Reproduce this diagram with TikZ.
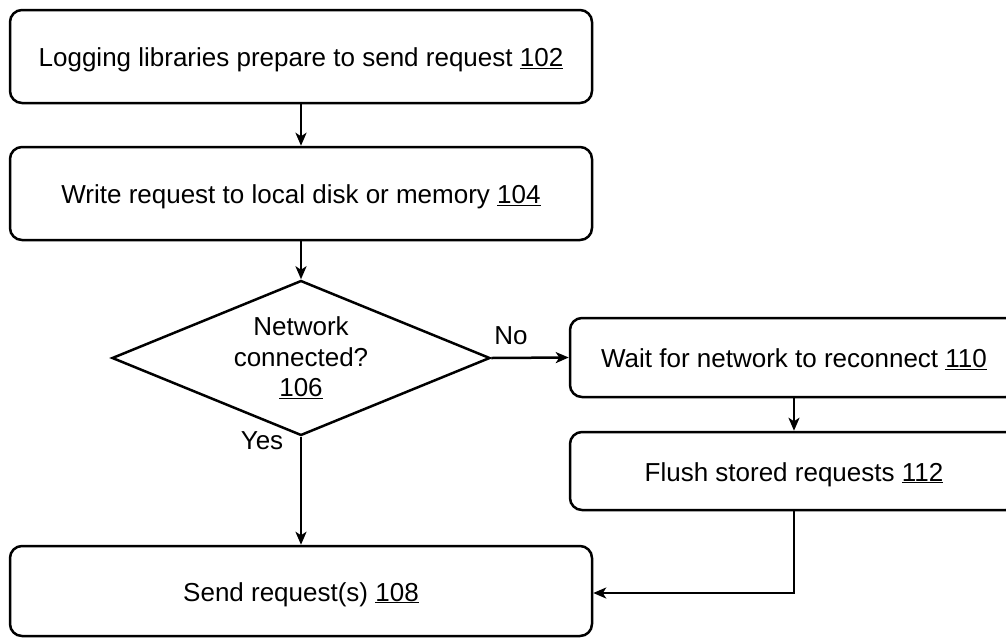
\documentclass[tikz,border=0pt]{standalone}
\usepackage{fontspec}
\setmainfont{Liberation Sans}
\usetikzlibrary{shapes.geometric,arrows.meta}

\tikzset{
  stepbox/.style={draw, line width=2.5pt, rounded corners=12pt, align=center,
    inner sep=0pt, text height=20pt, text depth=0pt,
    font=\fontsize{26}{31}\selectfont},
  decision/.style={draw, line width=2.5pt, diamond, aspect=2.45, inner sep=0pt,
    align=center, minimum width=378pt, minimum height=155pt,
    font=\fontsize{26}{30.5}\selectfont},
  flow/.style={line width=2.5pt, -{Stealth[length=13pt,width=11pt,inset=3.5pt]}},
  tag/.style={font=\fontsize{26}{31}\selectfont, inner sep=0pt}
}

\begin{document}
\begin{tikzpicture}[x=1pt,y=-1pt]
  \useasboundingbox (0,0) rectangle (1006,638);

  % main column of steps
  \node[stepbox, minimum width=582pt, minimum height=93pt] (b102) at (301,56.5)
    {Logging libraries prepare to send request \underline{102}};
  \node[stepbox, minimum width=582pt, minimum height=93pt] (b104) at (301,193.5)
    {Write request to local disk or memory \underline{104}};
  \node[decision] (d106) at (301,358)
    {Network\\connected?\\\underline{106}};
  \node[stepbox, minimum width=582pt, minimum height=90pt] (b108) at (301,591)
    {Send request(s) \underline{108}};

  % offline branch
  \node[stepbox, minimum width=448pt, minimum height=79pt] (b110) at (794,357.5)
    {Wait for network to reconnect \underline{110}};
  \node[stepbox, minimum width=448pt, minimum height=78pt] (b112) at (794,471)
    {Flush stored requests \underline{112}};

  % connectors
  \draw[flow] (b102) -- (b104);
  \draw[flow] (b104) -- (d106);
  \draw[flow] (d106.east) -- (b110.west);
  \draw[flow] (d106.south) -- (b108.north);
  \draw[flow] (b110) -- (b112);
  \coordinate (turn) at (b112.south |- 0,593);
  \draw[flow] (b112.south) -- (turn) -- (b108.east |- turn);

  \node[tag] (no) at (511,336) {No};
  \node[tag] (yes) at (262,441) {Yes};
\end{tikzpicture}
\end{document}
